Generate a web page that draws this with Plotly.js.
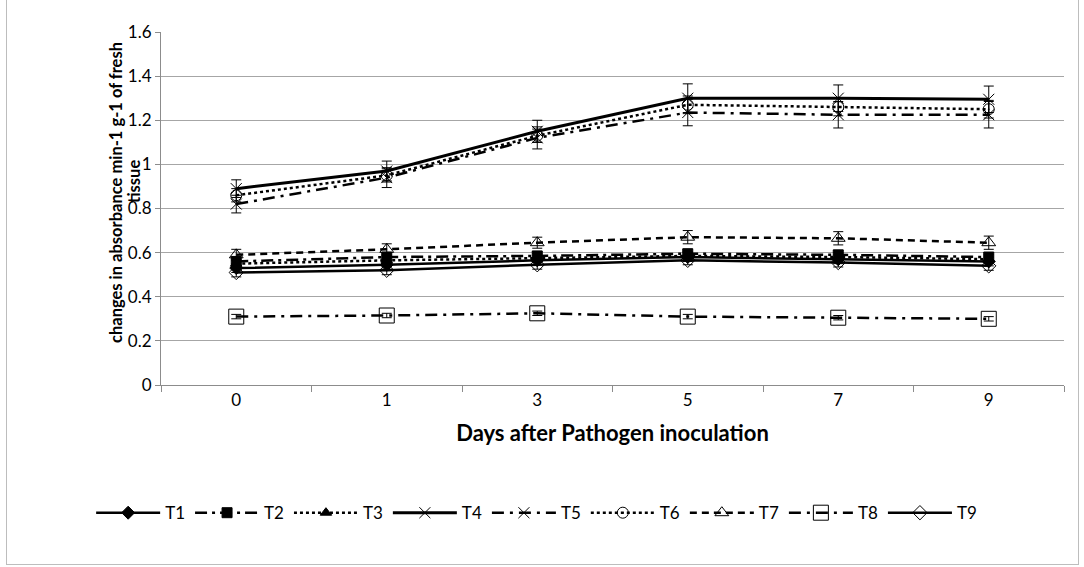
<!DOCTYPE html>
<html>
<head>
<meta charset="utf-8">
<script src="https://cdn.plot.ly/plotly-3.0.1.min.js"></script>
<style>
html,body{margin:0;padding:0;background:#fff;}
#frame{position:absolute;left:6px;top:-1px;width:1071px;height:564px;border:1px solid #bdbdbd;}
#chart{position:absolute;left:0;top:0;width:1084px;height:567px;}
</style>
</head>
<body>
<div id="frame"></div>
<div id="chart"></div>
<script>
const days = ["0", "1", "3", "5", "7", "9"];
const seriesNames = ["T1", "T2", "T3", "T4", "T5", "T6", "T7", "T8", "T9"];

const T1 = [0.53, 0.545, 0.565, 0.58, 0.57, 0.56];
const T2 = [0.56, 0.58, 0.585, 0.595, 0.59, 0.58];
const T3 = [0.55, 0.565, 0.575, 0.585, 0.58, 0.57];
const T4 = [0.89, 0.97, 1.15, 1.30, 1.30, 1.295];
const T5 = [0.82, 0.94, 1.12, 1.235, 1.225, 1.225];
const T6 = [0.86, 0.95, 1.13, 1.27, 1.26, 1.25];
const T7 = [0.59, 0.615, 0.645, 0.67, 0.665, 0.645];
const T8 = [0.31, 0.315, 0.325, 0.31, 0.305, 0.30];
const T9 = [0.51, 0.52, 0.545, 0.565, 0.555, 0.54];

const E1 = [0.02, 0.02, 0.02, 0.02, 0.02, 0.02];
const E2 = [0.02, 0.02, 0.02, 0.02, 0.02, 0.02];
const E3 = [0.02, 0.02, 0.02, 0.02, 0.02, 0.02];
const E4 = [0.04, 0.045, 0.05, 0.065, 0.06, 0.06];
const E5 = [0.04, 0.045, 0.05, 0.06, 0.06, 0.06];
const E6 = [0.03, 0.03, 0.03, 0.04, 0.04, 0.04];
const E7 = [0.025, 0.025, 0.025, 0.03, 0.03, 0.03];
const E8 = [0.01, 0.01, 0.01, 0.01, 0.01, 0.01];
const E9 = [0.02, 0.02, 0.02, 0.02, 0.02, 0.02];

const yTitleLine1 = "changes in absorbance min-1 g-1 of fresh";
const yTitleLine2 = "tissue";
const xTitle = "Days after Pathogen inoculation";

const values = [T1, T2, T3, T4, T5, T6, T7, T8, T9];
const errors = [E1, E2, E3, E4, E5, E6, E7, E8, E9];

const styles = [
  {dash: "solid", width: 2.5, symbol: "diamond", size: 10},
  {dash: "12px,5px,3px,5px", width: 2.5, symbol: "square", size: 10},
  {dash: "dot", width: 2.5, symbol: "triangle-up", size: 10},
  {dash: "solid", width: 3, symbol: "x-thin-open", size: 11},
  {dash: "12px,6px,3px,6px", width: 2.5, symbol: "x-thin-open", size: 11},
  {dash: "dot", width: 2.5, symbol: "circle-open-dot", size: 11},
  {dash: "7px,5px", width: 2.5, symbol: "triangle-up-open", size: 12},
  {dash: "12px,6px,3px,6px", width: 2.5, symbol: "square-open", size: 15},
  {dash: "solid", width: 2.5, symbol: "diamond-open", size: 11}
];

const traces = seriesNames.map((name, i) => ({
  type: "scatter",
  mode: "lines+markers",
  name: name,
  x: days,
  y: values[i],
  line: {color: "#000", width: styles[i].width, dash: styles[i].dash},
  marker: {symbol: styles[i].symbol, size: styles[i].size, color: "#000",
           line: {color: "#000", width: 1}},
  error_y: {type: "data", array: errors[i], visible: true, color: "#000", thickness: 1, width: 5}
}));

const font = "Lato, 'Open Sans', sans-serif";
const layout = {
  width: 1084, height: 567,
  paper_bgcolor: "rgba(0,0,0,0)", plot_bgcolor: "#fff",
  margin: {l: 161, r: 20, t: 32, b: 182},
  font: {family: font, size: 17, color: "#000"},
  showlegend: true,
  legend: {orientation: "h", x: 0.416, xanchor: "center", y: -0.363, yanchor: "middle",
           font: {family: font, size: 17, color: "#000"}, itemwidth: 64,
           traceorder: "normal"},
  xaxis: {type: "category", range: [-0.5, 5.5], showgrid: false, zeroline: false,
          showline: true, linecolor: "#8c8c8c", linewidth: 1,
          ticks: "outside", tickson: "boundaries", ticklen: 6, tickcolor: "#8c8c8c",
          tickfont: {family: font, size: 17},
          title: {text: "<b>" + xTitle + "</b>", font: {family: font, size: 22}, standoff: 16}},
  yaxis: {range: [0, 1.6], showgrid: true, gridcolor: "#a6a6a6", gridwidth: 1,
          zeroline: false, showline: true, linecolor: "#8c8c8c", linewidth: 1,
          ticks: "outside", ticklen: 5, tickcolor: "#8c8c8c",
          tickvals: [0, 0.2, 0.4, 0.6, 0.8, 1, 1.2, 1.4, 1.6],
          ticktext: ["0", "0.2", "0.4", "0.6", "0.8", "1", "1.2", "1.4", "1.6"],
          tickfont: {family: font, size: 17}},
  annotations: [{
    text: "<b>" + yTitleLine1 + "</b>", xref: "paper", yref: "paper",
    x: 0, y: 0.544, xanchor: "center", yanchor: "middle", xshift: -45,
    textangle: -90, showarrow: false,
    font: {family: font, size: 16.5, color: "#000"}
  }, {
    text: "<b>" + yTitleLine2 + "</b>", xref: "paper", yref: "paper",
    x: 0, y: 0.575, xanchor: "center", yanchor: "middle", xshift: -27,
    textangle: -90, showarrow: false,
    font: {family: font, size: 16.5, color: "#000"}
  }]
};

Plotly.newPlot("chart", traces, layout, {displayModeBar: false, staticPlot: true});
</script>
</body>
</html>
